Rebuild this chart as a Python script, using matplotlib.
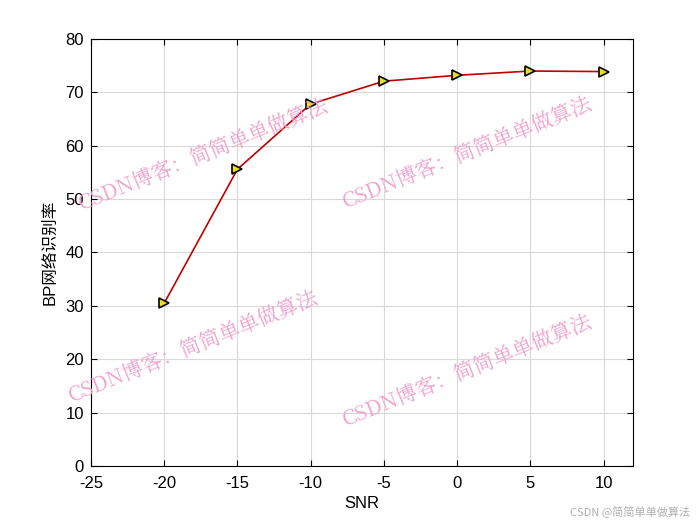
import matplotlib
matplotlib.use("Agg")
import matplotlib.pyplot as plt

plt.rcParams['font.family'] = ['Liberation Sans', 'Noto Sans CJK SC', 'DejaVu Sans']
plt.rcParams['axes.unicode_minus'] = False

# data
snr = [-20, -15, -10, -5, 0, 5, 10]
acc = [30.5, 55.6, 67.8, 72.1, 73.2, 74.0, 73.9]
yticks = [0, 10, 20, 30, 40, 50, 60, 70, 80]
xticks = [-25, -20, -15, -10, -5, 0, 5, 10]
mark = "CSDN博客：简简单单做算法"

fig = plt.figure(figsize=(7, 5.25), dpi=100)
ax = fig.add_axes([0.13, 0.1124, 0.774, 0.8133])

ax.plot(snr, acc, color='#c00000', linewidth=1.2, marker='>', markersize=7,
        markerfacecolor='#e8e020', markeredgecolor='black', markeredgewidth=1.2)

ax.set_xlim(-25, 12)
ax.set_ylim(0, 80)
ax.set_xticks(xticks)
ax.set_yticks(yticks)
ax.grid(True, color='#d9d9d9', linewidth=0.8)
ax.set_axisbelow(True)
ax.tick_params(direction='in', top=True, right=True, labelsize=12, length=4)
ax.tick_params(axis='x', pad=7)
ax.tick_params(axis='y', pad=5)
for s in ax.spines.values():
    s.set_linewidth(0.8)
ax.set_xlabel('SNR', fontsize=12, labelpad=4)
ax.set_ylabel('BP网络识别率', fontsize=12, labelpad=6)

# watermarks
wm_pos = [(204, 155), (468, 153), (194, 347), (468, 371)]
for px, py in wm_pos:
    fig.text(px / 700, 1 - py / 525, mark, fontsize=15, color='#f0a0cc',
             rotation=22, ha='center', va='center',
             family=['Noto Serif CJK SC', 'Noto Sans CJK SC'], zorder=10)

fig.text(690 / 700, 1 - 512 / 525, 'CSDN @简简单单做算法', fontsize=8,
         color='#b0b0b0', ha='right', va='center',
         family=['Noto Sans CJK SC', 'DejaVu Sans'])

fig.savefig('out.png')
